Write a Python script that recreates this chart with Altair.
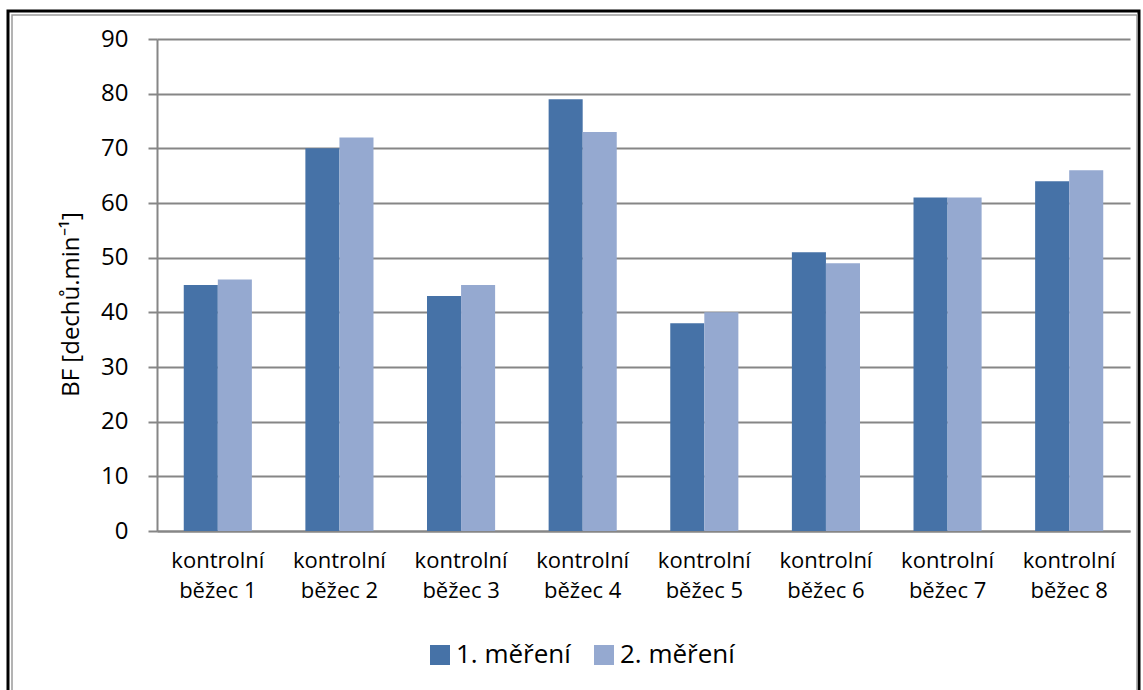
import altair as alt
import pandas as pd

categories = ["kontrolní\nběžec 1", "kontrolní\nběžec 2", "kontrolní\nběžec 3", "kontrolní\nběžec 4",
              "kontrolní\nběžec 5", "kontrolní\nběžec 6", "kontrolní\nběžec 7", "kontrolní\nběžec 8"]
series_names = ["1. měření", "2. měření"]
mereni1 = [45, 70, 43, 79, 38, 51, 61, 64]
mereni2 = [46, 72, 45, 73, 40, 49, 61, 66]
colors = ["#4672A7", "#95A9D0"]

rows = []
for i, c in enumerate(categories):
    rows.append({"kat": c, "serie": series_names[0], "hodnota": mereni1[i]})
    rows.append({"kat": c, "serie": series_names[1], "hodnota": mereni2[i]})
df = pd.DataFrame(rows)

FONT = "Open Sans"

bars = alt.Chart(df).mark_bar(strokeWidth=0).encode(
    x=alt.X("kat:N", sort=categories, title=None,
            scale=alt.Scale(paddingInner=0.44, paddingOuter=0.22),
            axis=alt.Axis(labelExpr="split(datum.label, '\\n')", labelAngle=0,
                          labelFontSize=22, labelFont=FONT, labelColor="#000000",
                          labelLineHeight=30, labelPadding=19, ticks=False,
                          domainColor="#868686", domainWidth=2, grid=False)),
    xOffset=alt.XOffset("serie:N", sort=series_names, scale=alt.Scale(paddingInner=0, paddingOuter=0)),
    y=alt.Y("hodnota:Q", title="BF [dechů.min⁻¹]",
            scale=alt.Scale(domain=[0, 90], nice=False),
            axis=alt.Axis(values=list(range(0, 91, 10)), labelFontSize=24, labelFont=FONT,
                          labelColor="#000000", tickSize=9, tickColor="#868686", tickWidth=2,
                          labelPadding=20, domainColor="#868686", domainWidth=2,
                          gridColor="#868686", gridWidth=2,
                          titleFontSize=24, titleFont=FONT, titleColor="#000000",
                          titleFontWeight="normal", titleX=-74, titleY=265)),
    color=alt.Color("serie:N", sort=series_names, scale=alt.Scale(domain=series_names, range=colors),
                    legend=alt.Legend(title=None, orient="none", legendX=270, legendY=603,
                                      direction="horizontal", symbolType="square", symbolSize=400,
                                      symbolStrokeWidth=0, labelFontSize=26, labelFont=FONT,
                                      labelColor="#000000", columnPadding=20, labelOffset=3)),
)

frame_outer = alt.Chart(pd.DataFrame({"a": [0]})).mark_rect(
    fill=None, stroke="#000000", strokeWidth=3
).encode(x=alt.value(-149), x2=alt.value(982), y=alt.value(-28), y2=alt.value(700))
frame_inner = alt.Chart(pd.DataFrame({"a": [0]})).mark_rect(
    fill=None, stroke="#9a9a9a", strokeWidth=1.5
).encode(x=alt.value(-145), x2=alt.value(980), y=alt.value(-24), y2=alt.value(700))

chart = alt.layer(frame_outer, frame_inner, bars).properties(
    width=973, height=492,
    autosize=alt.AutoSizeParams(type="none"),
    padding={"left": 157, "top": 39, "right": 13, "bottom": 159},
    background="#ffffff",
).configure_view(stroke=None)

chart.save("out.html", embed_options={"renderer": "svg", "actions": False})
